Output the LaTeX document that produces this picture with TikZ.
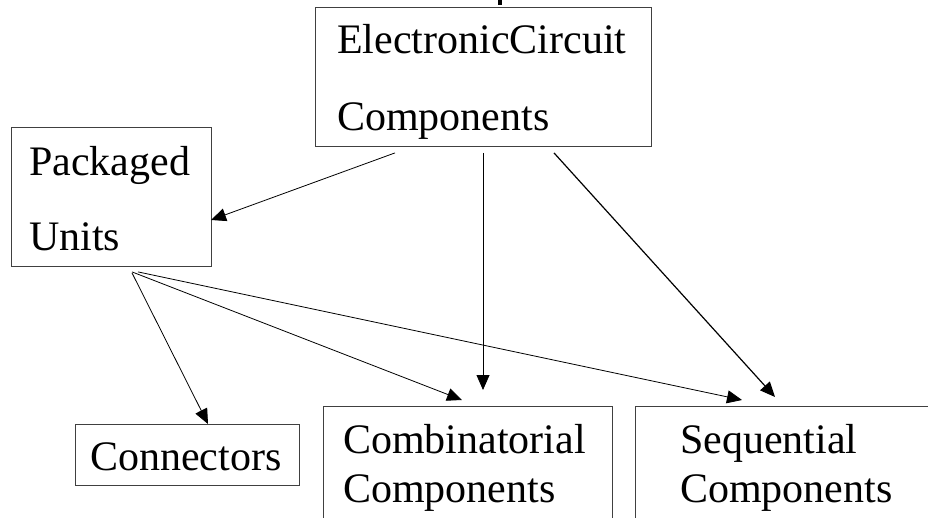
\documentclass[tikz,border=0pt]{standalone}
\usepackage{fontspec}
\setmainfont{Liberation Serif}
\usetikzlibrary{arrows.meta, positioning, calc}
\newcommand{\linkArrow}{{Triangle[length=15pt,width=13pt]}}

\begin{document}
\begin{tikzpicture}[x=1pt, y=-1pt,
	box/.style={draw=black!75, line width=0.9pt, inner sep=0pt, anchor=north west},
	txt/.style={anchor=base west, inner sep=0pt, align=left, font=\fontsize{42}{#1}\selectfont},
	txt/.default=49,
	link/.style={line width=0.8pt, -\linkArrow}]
	\clip (0,0) rectangle (928,517);
	
	% boxes
	\node[box, minimum width=336pt, minimum height=139pt] (ecc) at (315,7) {};
	\node[box, minimum width=200pt, minimum height=139pt] (pack) at (11,127) {};
	\node[box, minimum width=224pt, minimum height=61pt] (conn) at (75,424) {};
	\node[box, minimum width=289pt, minimum height=130pt] (comb) at (323,406) {};
	\node[box, minimum width=320pt, minimum height=130pt] (seq) at (635,406) {};
	
	% labels (base = baseline of the last line)
	\node[txt=77] (eccText) at ([shift={(22,123)}]ecc.north west) {ElectronicCircuit\\Components};
	\node[txt=75] (packText) at ([shift={(18,123)}]pack.north west) {Packaged\\Units};
	\node[txt] (connText) at ([shift={(15,46)}]conn.north west) {Connectors};
	\node[txt] (combText) at ([shift={(20,96)}]comb.north west) {Combinatorial\\Components};
	\node[txt] (seqText) at ([shift={(45,96)}]seq.north west) {Sequential\\Components};
	
	% descender of the heading above
	\fill (498,0) rectangle (502,5);
	
	% links
	\foreach \a/\ax/\ay/\b/\bx/\by in {ecc/80/6/pack/200/93, ecc/168/6/comb/160/-16, pack/121/6/conn/133/0, pack/121/5/comb/139/-6, pack/127/5/seq/107/-6} {
		\draw[link]	([shift={(\ax,\ay)}]\a.south west) -- ([shift={(\bx,\by)}]\b.north west);
	}
	\draw[link, line width=1.2pt]	([shift={(239,6)}]ecc.south west) -- ([shift={(140,-9)}]seq.north west);
	
\end{tikzpicture}
\end{document}
